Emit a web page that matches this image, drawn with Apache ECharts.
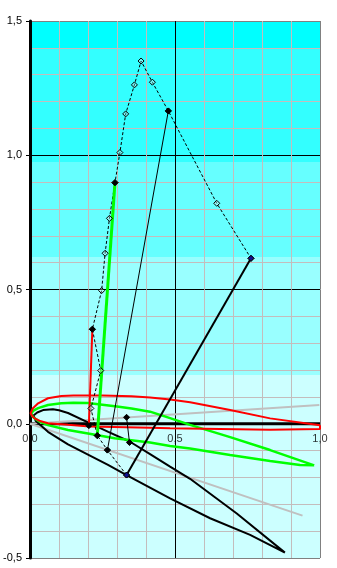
<!DOCTYPE html>
<html><head><meta charset="utf-8">
<script src="https://cdn.jsdelivr.net/npm/echarts@6/dist/echarts.min.js"></script>
<style>html,body{margin:0;padding:0;background:#fff}#c{width:337px;height:568px}</style>
</head><body><div id="c"></div>
<script>
// tick labels
const xTicks = [0, 0.5, 1.0];
const yTicks = [-0.5, 0, 0.5, 1.0, 1.5];
// background band boundaries (y values, top to bottom)
const bandEdges = [1.4, 0.975, 0.621, 0.182];
const bandColors = ['#00FFFF', '#33FFFF', '#66FFFF', '#99FFFF', '#CCFFFF'];

// chord lines
const chord4 = [[0, 0], [0.9976, 0.0698]];
const chord20 = [[0, 0], [0.9397, -0.342]];

// airfoils
const redAirfoil = [[1.0,-0.006],[0.828,0.02],[0.69,0.051],[0.552,0.08],[0.483,0.09],[0.414,0.098],[0.35,0.102],[0.25,0.105],[0.15,0.105],[0.108,0.103],[0.062,0.095],[0.028,0.076],[0.01,0.058],[0.002,0.039],[0.008,0.028],[0.016,0.02],[0.035,0.01],[0.062,0.002],[0.131,-0.004],[0.205,-0.01],[0.414,-0.015],[0.483,-0.017],[0.828,-0.022],[1.0,-0.02],[1.0,-0.006]];
const greenAirfoil = [[0.98,-0.155],[0.828,-0.098],[0.69,-0.05],[0.552,-0.004],[0.483,0.021],[0.414,0.045],[0.35,0.057],[0.3,0.064],[0.25,0.071],[0.2,0.077],[0.15,0.078],[0.108,0.076],[0.062,0.07],[0.028,0.058],[0.012,0.049],[0.005,0.039],[0.008,0.028],[0.016,0.02],[0.035,0.007],[0.062,-0.005],[0.131,-0.023],[0.2,-0.036],[0.292,-0.054],[0.414,-0.07],[0.483,-0.083],[0.552,-0.092],[0.69,-0.116],[0.828,-0.139],[0.931,-0.154],[0.98,-0.155]];
const blackAirfoil = [[0.879,-0.48],[0.713,-0.334],[0.552,-0.205],[0.483,-0.16],[0.414,-0.113],[0.345,-0.067],[0.27,-0.03],[0.2,0.005],[0.131,0.04],[0.1,0.05],[0.079,0.054],[0.045,0.051],[0.025,0.042],[0.012,0.031],[0.01,0.026],[0.02,0.01],[0.062,-0.03],[0.131,-0.077],[0.2,-0.115],[0.269,-0.153],[0.333,-0.191],[0.483,-0.278],[0.621,-0.352],[0.759,-0.414],[0.879,-0.48]];

// resultant force vectors (tail, tip)
const redVector = [[0.203,-0.007],[0.215,0.352]];
const greenVector = [[0.232,-0.044],[0.293,0.898]];
const thinVector = [[0.267,-0.098],[0.477,1.165]];
const boldVector = [[0.333,-0.191],[0.762,0.616]];
const smallVector = [[0.343,-0.07],[0.333,0.024]];

// polar curve through tips / tails
const polar = [[0.333,-0.191],[0.267,-0.098],[0.232,-0.044],[0.21,0.057],[0.244,0.198],[0.215,0.352],[0.247,0.496],[0.259,0.635],[0.274,0.765],[0.293,0.898],[0.31,1.01],[0.33,1.154],[0.36,1.262],[0.383,1.351],[0.422,1.272],[0.477,1.165],[0.644,0.821],[0.762,0.616]];

const xMin = xTicks[0], xMax = xTicks[xTicks.length - 1];
const yMin = yTicks[0], yMax = yTicks[yTicks.length - 1];
const stops = [{offset: 0, color: bandColors[0]}];
bandEdges.forEach((e, i) => {
  const off = (yMax - e) / (yMax - yMin);
  stops.push({offset: off, color: bandColors[i]});
  stops.push({offset: off, color: bandColors[i + 1]});
});
stops.push({offset: 1, color: bandColors[bandColors.length - 1]});

const fmt = v => (Math.round(v * 10) / 10).toFixed(1).replace('.', ',');
const font = {color: '#000', fontSize: 11, fontFamily: 'Liberation Sans, Arial, sans-serif'};

function lineSeries(data, color, width, extra) {
  return Object.assign({
    type: 'line', data: data, showSymbol: false, symbol: 'none', silent: true,
    lineStyle: {color: color, width: width}, itemStyle: {color: color}
  }, extra || {});
}
function vectorSeries(data, color, width, markColor) {
  return {
    type: 'line', data: data, symbol: 'diamond', symbolSize: 6, showSymbol: true, silent: true,
    lineStyle: {color: color, width: width},
    itemStyle: {color: markColor, borderColor: '#000', borderWidth: 1}
  };
}

const chart = echarts.init(document.getElementById('c'), null, {renderer: 'canvas'});
chart.setOption({
  animation: false,
  grid: {left: 30, right: 17, top: 21, bottom: 10, containLabel: false, outerBoundsMode: 'none',
    show: true, borderWidth: 0,
    backgroundColor: {type: 'linear', x: 0, y: 0, x2: 0, y2: 1, colorStops: stops}},
  xAxis: {
    type: 'value', min: xMin, max: xMax, interval: 0.5,
    axisLine: {show: false},
    axisTick: {show: false},
    axisLabel: {show: false},
    splitLine: {show: true, lineStyle: {color: ['#000', '#000', '#808080'], width: 1}},
    minorTick: {show: false, splitNumber: 5},
    minorSplitLine: {show: true, lineStyle: {color: '#c4bcbc', width: 1}}
  },
  yAxis: {
    type: 'value', min: yMin, max: yMax, interval: 0.5,
    axisLine: {onZero: false, lineStyle: {color: '#000', width: 3}},
    axisTick: {show: true, length: 4, lineStyle: {color: '#000'}},
    axisLabel: Object.assign({formatter: fmt, margin: 8}, font),
    splitLine: {show: true, lineStyle: {color: ['#808080', '#000', '#000', '#000', '#808080'], width: 1}},
    minorTick: {show: false, splitNumber: 5},
    minorSplitLine: {show: true, lineStyle: {color: '#c4bcbc', width: 1}}
  },
  series: [
    lineSeries([[xMin, 0], [xMax, 0]], '#000', 3),
    {
      type: 'scatter', data: xTicks.map(v => [v, 0]), symbolSize: 1, silent: true,
      itemStyle: {color: 'rgba(0,0,0,0)'},
      label: Object.assign({show: true, position: 'bottom', distance: 9,
        formatter: p => fmt(p.value[0])}, font)
    },
    lineSeries(chord20, '#c0c0c0', 2),
    lineSeries(chord4, '#c0c0c0', 2),
    lineSeries(blackAirfoil, '#000', 2),
    lineSeries(greenAirfoil, '#00ff00', 2.5),
    lineSeries(redAirfoil, '#ff0000', 2),
    {
      type: 'line', data: polar, symbol: 'diamond', symbolSize: 6, showSymbol: true, silent: true,
      lineStyle: {color: '#000', width: 1, type: [3, 2]},
      itemStyle: {color: 'rgba(255,255,255,0.3)', borderColor: '#000', borderWidth: 1}
    },
    vectorSeries(redVector, '#ff0000', 2, '#000'),
    vectorSeries(greenVector, '#00ff00', 3, '#000'),
    vectorSeries(thinVector, '#000', 1, '#000'),
    vectorSeries(boldVector, '#000', 2, '#101090'),
    vectorSeries(smallVector, '#000', 1, '#000')
  ]
});
</script>
</body></html>
